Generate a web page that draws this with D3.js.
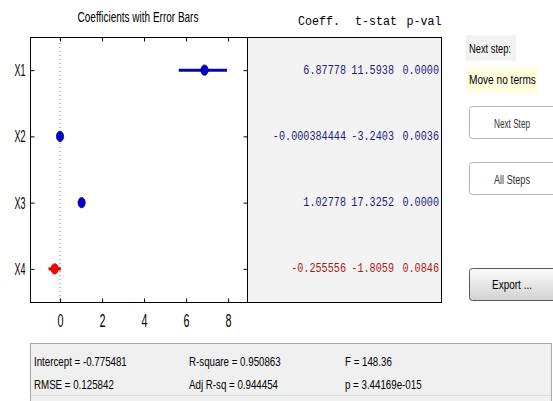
<!DOCTYPE html>
<html><head><meta charset="utf-8">
<script src="https://cdn.jsdelivr.net/npm/d3@7"></script>
<style>
html,body{margin:0;padding:0;background:#fff;}
svg{display:block;}
</style></head>
<body>
<div id="chart"></div>
<script>
// ---- data ----
const terms = ["X1", "X2", "X3", "X4"];
const coef = [6.87778, -0.000384444, 1.02778, -0.255556];
const coefText = ["6.87778", "-0.000384444", "1.02778", "-0.255556"];
const tstat = ["11.5938", "-3.2403", "17.3252", "-1.8059"];
const pval = ["0.0000", "0.0036", "0.0000", "0.0846"];
const ciLow = [5.65, -0.02, 0.92, -0.55];
const ciHigh = [7.95, 0.02, 1.14, 0.04];
const inModel = [true, true, true, false];
const xTicks = [0, 2, 4, 6, 8];
const headers = ["Coeff.", "t-stat", "p-val"];
const statsLeft = ["Intercept = -0.775481", "RMSE = 0.125842"];
const statsMid = ["R-square = 0.950863", "Adj R-sq = 0.944454"];
const statsRight = ["F = 148.36", "p = 3.44169e-015"];

const W = 553, H = 401;
const svg = d3.select("#chart").append("svg").attr("width", W).attr("height", H);
const SANS = "'Liberation Sans',Arial,sans-serif";
const MONO = "'Liberation Mono','Courier New',monospace";

// text drawn with a horizontal squeeze (narrow look of the original)
function txt(g, s, x, y, o = {}) {
  const t = g.append("text").attr("x", 0).attr("y", 0).text(s)
    .attr("font-family", o.family || SANS)
    .attr("font-size", o.size || 12)
    .attr("fill", o.fill || "#000")
    .attr("text-anchor", o.anchor || "start")
    .attr("dominant-baseline", "central");
  if (o.weight) t.attr("font-weight", o.weight);
  const nat = t.node().getComputedTextLength() || 1;
  const sx = o.width ? o.width / nat : (o.sx || 1);
  t.attr("transform", `translate(${x},${y}) scale(${sx},1)`);
  return t;
}

// ---- plot area ----
const L = 30, R = 247, T = 37, B = 302, TR = 441;
const x = d3.scaleLinear().domain([-1.43, 8.9]).range([L, R]);
const y = d3.scalePoint().domain(terms).range([T, B]).padding(0.5);

// table background
svg.append("rect").attr("x", R + 0.5).attr("y", T + 0.5).attr("width", TR - R).attr("height", B - T)
  .attr("fill", "#f3f3f3").attr("stroke", "#000").attr("stroke-width", 1);

// frame
svg.append("rect").attr("x", L + 0.5).attr("y", T + 0.5).attr("width", R - L).attr("height", B - T)
  .attr("fill", "#fff").attr("stroke", "#000").attr("stroke-width", 1);

// title
txt(svg, "Coefficients with Error Bars", 138, 17, {anchor: "middle", size: 15, width: 121});

// zero line
svg.append("line").attr("x1", x(0)).attr("x2", x(0)).attr("y1", T + 2).attr("y2", B)
  .attr("stroke", "#888").attr("stroke-dasharray", "1,3").attr("stroke-width", 1);

// axes
const gb = svg.append("g").attr("transform", `translate(0,${B + 0.5})`)
  .call(d3.axisBottom(x).tickValues(xTicks).tickSize(-4).tickSizeOuter(0).tickPadding(12));
gb.select(".domain").remove();
gb.selectAll("line").attr("stroke", "#000");
gb.selectAll("text").attr("font-family", SANS).attr("font-size", 18).attr("fill", "#000")
  .attr("textLength", 6).attr("lengthAdjust", "spacingAndGlyphs");
const gt = svg.append("g").attr("transform", `translate(0,${T + 0.5})`)
  .call(d3.axisTop(x).tickValues(xTicks).tickSize(-4).tickSizeOuter(0).tickFormat(""));
gt.select(".domain").remove();
gt.selectAll("line").attr("stroke", "#000");

const gl = svg.append("g").attr("transform", `translate(${L + 0.5},0)`)
  .call(d3.axisLeft(y).tickSize(-4).tickSizeOuter(0).tickPadding(5));
gl.select(".domain").remove();
gl.selectAll("line").attr("stroke", "#000");
gl.selectAll("text").attr("font-family", SANS).attr("font-size", 17).attr("fill", "#000")
  .attr("textLength", 11).attr("lengthAdjust", "spacingAndGlyphs");
const gr = svg.append("g").attr("transform", `translate(${R + 0.5},0)`)
  .call(d3.axisRight(y).tickSize(-4).tickSizeOuter(0).tickFormat(""));
gr.select(".domain").remove();
gr.selectAll("line").attr("stroke", "#000");

// error bars & points
const idx = d3.range(terms.length);
svg.selectAll(".eb").data(idx).join("line")
  .attr("x1", i => x(ciLow[i])).attr("x2", i => x(ciHigh[i]))
  .attr("y1", i => y(terms[i])).attr("y2", i => y(terms[i]))
  .attr("stroke", i => inModel[i] ? "#0a0a9a" : "#e00000").attr("stroke-width", 3);
svg.selectAll(".pt").data(idx).join("ellipse")
  .attr("cx", i => x(coef[i])).attr("cy", i => y(terms[i]))
  .attr("rx", 3.6).attr("ry", 5.2)
  .attr("fill", i => inModel[i] ? "#0000d0" : "#ff0000")
  .attr("stroke", i => inModel[i] ? "#000080" : "#c00000").attr("stroke-width", 0.8);

// table text
const CW = 6.1;
const colRight = [346, 394, 439];
const hdrCenter = [319, 376, 424];
headers.forEach((h, j) => txt(svg, h, hdrCenter[j], 22, {anchor: "middle", family: MONO, size: 13.5, fill: "#000", width: h.length * 7.0}));
idx.forEach(i => {
  const col = inModel[i] ? "#1c1c78" : "#b01818";
  [coefText[i], tstat[i], pval[i]].forEach((s, j) => {
    txt(svg, s, colRight[j], y(terms[i]), {anchor: "end", family: MONO, size: 13.5, fill: col, width: s.length * CW});
  });
});

// right panel
svg.append("rect").attr("x", 466).attr("y", 35).attr("width", 50).attr("height", 26).attr("fill", "#f2f2f2");
txt(svg, "Next step:", 469, 48, {size: 13, width: 42});
svg.append("rect").attr("x", 466).attr("y", 67).attr("width", 72).attr("height", 26).attr("fill", "#ffffe0");
txt(svg, "Move no terms", 469, 79, {size: 13, width: 67});

const defs = svg.append("defs");
const grad = defs.append("linearGradient").attr("id", "exg").attr("x1", 0).attr("x2", 0).attr("y1", 0).attr("y2", 1);
grad.append("stop").attr("offset", "0%").attr("stop-color", "#fbfbfb");
grad.append("stop").attr("offset", "100%").attr("stop-color", "#d2d2d2");

function button(label, top, primary) {
  svg.append("rect").attr("x", 469.5).attr("y", top + 0.5).attr("width", 90).attr("height", 32).attr("rx", 3)
    .attr("fill", primary ? "url(#exg)" : "#fff")
    .attr("stroke", primary ? "#5a5a5a" : "#b4b4b4").attr("stroke-width", 1);
  txt(svg, label, 512, top + 17, {anchor: "middle", size: 12.5, width: label.length * 4.0, fill: primary ? "#000" : "#333"});
}
button("Next Step", 106, false);
button("All Steps", 162, false);
button("Export ...", 268, true);

// bottom stats panel
svg.append("rect").attr("x", 30.5).attr("y", 343.5).attr("width", 521).attr("height", 70)
  .attr("fill", "#f0f0f0").attr("stroke", "#a8a8a8");
svg.append("line").attr("x1", 31).attr("x2", 551).attr("y1", 395.5).attr("y2", 395.5).attr("stroke", "#dcdcdc");
const rowsY = [362, 385];
const statCols = [[statsLeft, 34], [statsMid, 189], [statsRight, 345]];
statCols.forEach(([arr, x0]) => arr.forEach((s, r) => txt(svg, s, x0, rowsY[r], {size: 12.5, sx: 0.78})));
</script>
</body></html>
